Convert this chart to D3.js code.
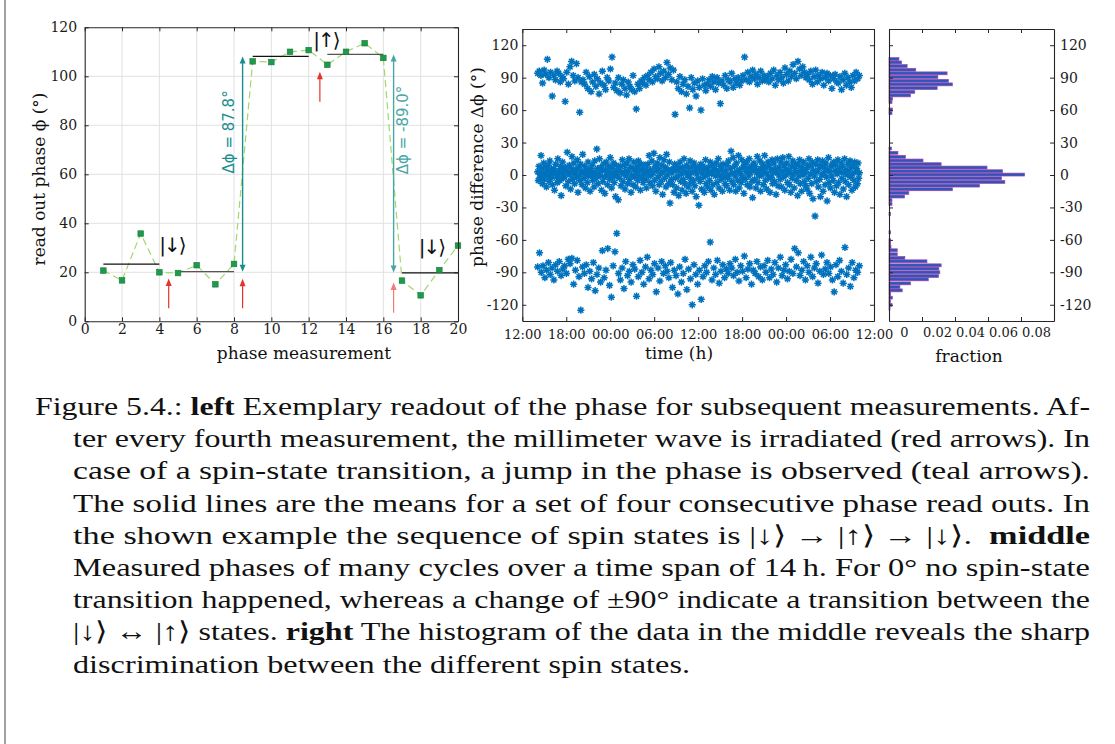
<!DOCTYPE html>
<html>
<head>
<meta charset="utf-8">
<script src="https://cdn.jsdelivr.net/npm/d3@7"></script>
<style>
  body { margin: 0; background: #ffffff; }
  svg { display: block; }
  text { white-space: pre; }
</style>
</head>
<body>
<svg id="fig" width="1115" height="744"></svg>
<script>
// ---------- left: phase read out per measurement ----------
const measurement = [1,2,3,4,5,6,7,8,9,10,11,12,13,14,15,16,17,18,19,20];
const readoutPhase = [20.7,16.7,35.8,20.0,19.7,22.9,15.1,23.4,106.1,105.8,110.0,110.7,104.7,110.0,113.5,107.5,16.6,10.6,20.9,30.9];
// blocks of four consecutive read outs (first and last measurement of each block)
const blockStart = [1,5,9,13,17];
const blockEnd   = [4,8,12,16,20];
// millimetre-wave irradiation (red arrows): position and vertical extent
const irradiationAt   = [4.5, 8.46, 12.6, 16.55];
const irradiationFrom = [5.3, 5.3, 89.6, 3.5];
const irradiationTo   = [17.5, 17.4, 101.9, 15.8];
// detected phase jumps (teal arrows)
const jumpAt    = [8.46, 16.55];
const jumpBlock = [1, 3];          // block the jump starts from
const jumpDelta = [87.8, -89.0];
const jumpLabelAt = [77.3, 78.1];  // label centre, in degrees
// spin-state labels
const stateText = ["|\u2193\u27E9", "|\u2191\u27E9", "|\u2193\u27E9"];
const stateX = [4.67, 12.92, 18.57];
const stateY = [31, 114.8, 30.3];

// ---------- middle: phase difference of many cycles ----------
const cycleStart = new Date(2021, 0, 1, 14, 6);
const cycleEnd   = new Date(2021, 0, 3, 10, 0);
// one value per cycle, in time order, for each of the three outcomes
const phaseNear90 = [
  94,96,92,85,97,93,107,90,95,73,92,88,96,94,
  86,91,89,68,95,84,100,105,92,87,103,90,58,86,
  88,84,95,80,91,77,86,93,82,89,75,85,96,83,79,90,87,98,109,
  81,85,78,90,76,84,88,80,74,86,82,79,92,77,61,84,80,87,
  85,90,83,92,88,95,86,98,91,89,100,94,87,96,90,104,93,99,88,97,56,
  86,80,91,77,84,88,75,82,62,90,79,85,73,87,81,60,89,83,78,
  84,88,82,91,86,79,90,85,66,87,83,92,80,88,86,94,81,89,85,90,83,87,
  92,109,88,95,86,91,97,89,93,84,90,96,87,92,88,
  91,86,94,89,97,83,92,88,95,90,85,99,93,87,96,91,102,94,89,105,98,92,100,95,90,
  93,88,96,84,91,97,86,92,89,95,83,90,94,87,92,80,89,93,86,
  85,91,79,88,94,83,90,86,81,92,87,95,89,92
];
const phaseNear0 = [
  3,-5,8,1,-2,18,6,-8,2,11,-4,0,7,-11,4,-1,9,-6,13,2,-3,5,-9,1,6,-14,3,10,-2,-7,15,0,4,-5,8,-19,2,12,-3,5,
  -1,7,-10,4,21,2,-6,9,0,-13,6,17,-4,3,11,-8,1,5,-2,14,-16,7,0,-5,10,3,-9,19,2,-3,8,-12,5,1,-7,12,-1,4,-15,6,
  0,9,-5,3,-11,13,1,-3,24,6,-8,2,15,-1,7,-14,4,-6,10,-2,-17,5,12,0,-9,3,8,-4,16,1,-12,6,-2,11,-7,2,-20,9,-1,4,
  -23,5,-3,8,-10,2,14,-6,1,9,-13,4,-1,11,-8,3,15,-4,7,-16,0,6,-9,12,-2,5,-11,2,8,-5,13,-1,4,-14,10,-3,6,-7,1,9,
  -4,7,-12,3,10,-1,18,-7,5,0,13,-10,2,20,-5,8,-15,4,11,-2,6,-9,16,1,-6,9,-18,3,14,-3,7,-11,19,0,5,-8,12,-26,4,-4,
  2,-9,6,-16,10,-3,4,-12,8,-1,-19,5,12,-6,1,-14,7,-4,15,-8,3,-17,9,0,-11,6,-2,13,-7,2,-15,8,-5,11,-10,4,-20,1,7,-3,
  -28,6,-6,10,-13,2,8,-2,-16,5,14,-8,0,-11,7,3,-5,12,-14,1,9,-9,4,-18,6,-1,11,-7,3,15,-12,0,8,-4,5,-15,10,-2,2,-8,
  4,-10,9,-3,13,0,-14,6,22,-6,2,16,-9,8,-1,-15,11,3,-5,18,-12,5,1,-7,14,-2,7,-17,10,-4,3,12,-9,6,-1,15,-11,2,8,-6,
  -21,5,11,-4,8,-12,2,17,-7,4,-1,13,-15,6,0,10,-9,3,18,-5,7,-13,1,12,-3,9,-16,5,-2,14,-8,2,11,-6,6,-18,3,15,-10,0,
  7,-4,12,-11,3,16,-2,9,-14,5,0,11,-7,4,17,-9,2,-16,8,-3,13,1,-12,6,10,-5,3,-19,9,-1,14,-8,4,-15,7,0,12,-6,2,-10,
  5,-13,9,-3,15,-17,1,8,-8,12,-22,4,-1,-38,10,-6,3,14,-11,6,-4,-20,9,0,13,-15,2,7,-9,11,-2,-24,5,16,-7,3,-12,8,-1,10,
  -5,12,-16,4,9,-10,1,14,-7,6,-18,3,11,-3,8,-13,2,15,-6,5,-20,0,10,-9,4,13,-2,7,-14,1,9,-5,12,-11,3,6,-8,11,-3,2
];
const phaseNearMinus90 = [
  -85,-72,-90,-84,-95,-88,-81,-92,-86,-97,-83,-89,-80,-93,-87,-84,-91,-78,
  -82,-77,-101,-88,-79,-94,-125,-85,-91,-83,-104,-89,-96,-81,-107,-92,-86,-99,
  -70,-95,-88,-68,-102,-113,-84,-71,-54,-91,-97,-86,-105,-80,-93,-89,-99,-83,
  -87,-112,-94,-79,-90,-101,-85,-76,-96,-88,-92,-82,-108,-86,-98,-80,-91,-84,
  -89,-95,-81,-104,-88,-93,-110,-85,-99,-91,-78,-106,-87,-96,-120,-83,-92,-101,
  -88,-115,-94,-84,-90,-80,-62,-97,-86,-92,-79,-100,-89,-83,-95,-87,-91,-82,
  -86,-93,-78,-90,-98,-84,-89,-75,-95,-87,-82,-101,-88,-91,-80,-94,-85,-97,
  -84,-90,-79,-95,-87,-92,-81,-99,-86,-76,-93,-88,-83,-96,-89,-78,-91,-68,
  -85,-72,-93,-88,-80,-97,-84,-90,-76,-94,-86,-82,-100,-89,-74,-92,-87,-81,
  -91,-85,-97,-108,-83,-94,-79,-89,-100,-67,-92,-86,-103,-81,-95,-88,-90,-84
];

// ---------- right: histogram of the phase differences ----------
const histCenter = [107.2,104.1,100.7,97.3,94.0,90.6,87.1,83.8,80.4,76.9,73.6,70.5,67.4,60.6,57.2,
  24.5,20.5,16.8,13.4,10.0,6.9,3.5,0.4,-3.0,-6.4,-9.8,-13.2,-16.5,-19.9,-23.3,-26.7,
  -36.0,-53.0,-60.4,-63.5,-66.5,-69.6,-73.3,-76.7,-79.8,-83.5,-86.6,-90.0,-93.4,-96.5,
  -100.2,-103.6,-106.7,-110.0,-113.4,-116.8,-120.2,-123.6];
const histFraction = [0.0060,0.0076,0.0110,0.0162,0.0352,0.0296,0.0360,0.0384,0.0292,0.0156,0.0130,0.0022,0.0018,0.0020,0.0018,
  0.0016,0.0054,0.0100,0.0206,0.0316,0.0594,0.0688,0.0822,0.0682,0.0702,0.0548,0.0384,0.0120,0.0094,0.0018,0.0018,
  0.0010,0.0010,0.0010,0.0010,0.0012,0.0050,0.0050,0.0096,0.0230,0.0316,0.0302,0.0308,0.0300,0.0238,
  0.0130,0.0066,0.0080,0.0010,0.0020,0.0008,0.0018,0.0006];

// ---------- tick values ----------
const leftXTicks = [0,2,4,6,8,10,12,14,16,18,20];
const leftYTicks = [0,20,40,60,80,100,120];
const phaseTicks = [-120,-90,-60,-30,0,30,60,90,120];
const fractionTicks = [0,0.02,0.04,0.06,0.08];

// ---------- caption ----------
const captionLines = [
  [["Figure 5.4.: ",0],["left",1],[" Exemplary readout of the phase for subsequent measurements. Af-",0]],
  [["ter every fourth measurement, the millimeter wave is irradiated (red arrows). In",0]],
  [["case of a spin-state transition, a jump in the phase is observed (teal arrows).",0]],
  [["The solid lines are the means for a set of four consecutive phase read outs. In",0]],
  [["the shown example the sequence of spin states is |\u2193\u27E9 \u2192 |\u2191\u27E9 \u2192 |\u2193\u27E9.  ",0],["middle",1]],
  [["Measured phases of many cycles over a time span of 14\u2009h. For 0\u00B0 no spin-state",0]],
  [["transition happened, whereas a change of \u00B190\u00B0 indicate a transition between the",0]],
  [["|\u2193\u27E9 \u2194 |\u2191\u27E9 states. ",0],["right",1],[" The histogram of the data in the middle reveals the sharp",0]],
  [["discrimination between the different spin states.",0]]
];

// ================= drawing =================
const svg = d3.select("#fig");
const axisColor = "#262626";
const serif = "'DejaVu Serif', serif";
const tickFont = 14;

svg.append("line").attr("x1", 5).attr("x2", 5).attr("y1", 0).attr("y2", 744)
  .attr("stroke", "#8a8a8a").attr("stroke-width", 1.6);

function styleAxis(g) {
  g.selectAll("path.domain").attr("stroke", axisColor).attr("stroke-width", 1.1);
  g.selectAll(".tick line").attr("stroke", axisColor).attr("stroke-width", 1);
  g.selectAll("text").attr("fill", "#1a1a1a").style("font-family", serif).style("font-size", tickFont + "px");
}
const plainNum = d => String(d);

// box of four axes with inward ticks
function boxAxes(x, y, xt, yt, o) {
  const [x0, x1] = x.range(), [y0, y1] = y.range();
  const bottom = svg.append("g").attr("transform", `translate(0,${y0})`)
    .call(d3.axisBottom(x).tickValues(xt).tickSizeInner(-4).tickSizeOuter(0)
      .tickPadding(o.xPad).tickFormat(o.xFormat || plainNum));
  const top = svg.append("g").attr("transform", `translate(0,${y1})`)
    .call(d3.axisTop(x).tickValues(xt).tickSizeInner(-4).tickSizeOuter(0).tickFormat(""));
  const left = svg.append("g").attr("transform", `translate(${x0},0)`)
    .call(d3.axisLeft(y).tickValues(yt).tickSizeInner(-4).tickSizeOuter(0)
      .tickPadding(o.yPad).tickFormat(o.yLeftLabels ? plainNum : ""));
  const right = svg.append("g").attr("transform", `translate(${x1},0)`)
    .call(d3.axisRight(y).tickValues(yt).tickSizeInner(-4).tickSizeOuter(0)
      .tickPadding(o.yPad).tickFormat(o.yLeftLabels ? "" : plainNum));
  [bottom, top, left, right].forEach(styleAxis);
  if (o.xFont) bottom.selectAll("text").style("font-size", o.xFont + "px");
  return { bottom, top, left, right };
}

// ---------- left panel ----------
const xL = d3.scaleLinear().domain([0, 20]).range([84.7, 458]);
const yL = d3.scaleLinear().domain([0, 120]).range([321.3, 27.3]);
const gL = svg.append("g");

gL.append("g").selectAll("line.gx").data(leftXTicks.slice(1, -1)).join("line")
  .attr("x1", d => xL(d)).attr("x2", d => xL(d)).attr("y1", yL(0)).attr("y2", yL(120))
  .attr("stroke", "#e2e2e2").attr("stroke-width", 1);
gL.append("g").selectAll("line.gy").data(leftYTicks.slice(1, -1)).join("line")
  .attr("x1", xL(0)).attr("x2", xL(20)).attr("y1", d => yL(d)).attr("y2", d => yL(d))
  .attr("stroke", "#e2e2e2").attr("stroke-width", 1);

const pts = measurement.map((m, i) => ({ m, v: readoutPhase[i] }));
gL.append("path").datum(pts)
  .attr("d", d3.line().x(d => xL(d.m)).y(d => yL(d.v)))
  .attr("fill", "none").attr("stroke", "#a3d86c").attr("stroke-width", 1.2)
  .attr("stroke-dasharray", "7,4");

const blockMean = blockStart.map((s, i) =>
  d3.mean(pts.filter(p => p.m >= s && p.m <= blockEnd[i]), p => p.v));
gL.append("g").selectAll("line").data(blockStart).join("line")
  .attr("x1", d => xL(d)).attr("x2", (d, i) => xL(blockEnd[i]))
  .attr("y1", (d, i) => yL(blockMean[i])).attr("y2", (d, i) => yL(blockMean[i]))
  .attr("stroke", (d, i) => i % 2 ? "#555555" : "#111111").attr("stroke-width", 1.3);

gL.append("g").selectAll("rect").data(pts).join("rect")
  .attr("x", d => xL(d.m) - 2.8).attr("y", d => yL(d.v) - 2.8)
  .attr("width", 5.6).attr("height", 5.6)
  .attr("fill", "#1e9a4c").attr("stroke", "#157a3a").attr("stroke-width", 0.6);

function head(g, x, yTip, dir, color, w, l) {
  g.append("path")
    .attr("d", `M${x},${yTip}L${x - w / 2},${yTip - dir * l}L${x + w / 2},${yTip - dir * l}Z`)
    .attr("fill", color);
}

// red arrows: irradiation
irradiationAt.forEach((a, i) => {
  const col = i === 3 ? "#ef7d78" : "#e3342c";
  const x = xL(a), y0 = yL(irradiationFrom[i]), y1 = yL(irradiationTo[i]);
  gL.append("line").attr("x1", x).attr("x2", x).attr("y1", y0).attr("y2", y1 + 6)
    .attr("stroke", col).attr("stroke-width", 1.2);
  head(gL, x, y1, -1, col, 6, 7.5);
});

// teal arrows: phase jumps
const jumpLabelShift = [-8.7, 14.3];
jumpAt.forEach((a, i) => {
  const col = i === 0 ? "#1b8f8f" : "#4aa6a6";
  const from = blockMean[jumpBlock[i]], to = from + jumpDelta[i];
  const yTop = yL(Math.max(from, to)), yBot = yL(Math.min(from, to));
  const x = xL(a);
  gL.append("line").attr("x1", x).attr("x2", x).attr("y1", yTop + 6).attr("y2", yBot - 6)
    .attr("stroke", col).attr("stroke-width", 1.4);
  head(gL, x, yTop, -1, col, 6, 7);
  head(gL, x, yBot, 1, col, 6, 7);
  const lx = x + jumpLabelShift[i], ly = yL(jumpLabelAt[i]);
  gL.append("text").attr("transform", `translate(${lx},${ly}) rotate(-90)`)
    .attr("text-anchor", "middle").attr("fill", col)
    .style("font-family", "'DejaVu Sans', sans-serif").style("font-size", "15px")
    .text(`\u0394\u03D5 = ${jumpDelta[i].toFixed(1)}\u00B0`);
});

// spin-state labels
gL.append("g").selectAll("text").data(stateText).join("text")
  .attr("x", (d, i) => xL(stateX[i])).attr("y", (d, i) => yL(stateY[i]))
  .attr("text-anchor", "middle").attr("dominant-baseline", "central")
  .style("font-family", "'DejaVu Sans', sans-serif").style("font-size", "20px")
  .style("letter-spacing", "-2px").attr("fill", "#111").text(d => d);

boxAxes(xL, yL, leftXTicks, leftYTicks, { xPad: 3, yPad: 7.5, yLeftLabels: true });

svg.append("text").attr("x", 304).attr("y", 359).attr("text-anchor", "middle")
  .style("font-family", serif).style("font-size", "17px").attr("fill", "#111")
  .text("phase measurement");
svg.append("text").attr("transform", "translate(45,179) rotate(-90)").attr("text-anchor", "middle")
  .style("font-family", serif).style("font-size", "17px").attr("fill", "#111")
  .text("read out phase \u03D5 (\u00B0)");

// ---------- middle panel ----------
const xM = d3.scaleTime().domain([new Date(2021, 0, 1, 12), new Date(2021, 0, 3, 12)]).range([522.3, 874]);
const yM = d3.scaleLinear().domain([-135, 135]).range([321, 29]);
const timeTicks = xM.ticks(d3.timeHour.every(6));

const asterisk = {
  draw(ctx, size) {
    const r = Math.sqrt(size) / 2, d = r * 0.7071;
    ctx.moveTo(-r, 0); ctx.lineTo(r, 0);
    ctx.moveTo(0, -r); ctx.lineTo(0, r);
    ctx.moveTo(-d, -d); ctx.lineTo(d, d);
    ctx.moveTo(-d, d); ctx.lineTo(d, -d);
  }
};
const star = d3.symbol().type(asterisk).size(52)();
const cycleTime = d3.scaleLinear().range([+cycleStart, +cycleEnd]);
const scatter = [phaseNear90, phaseNear0, phaseNearMinus90].flatMap(arr => {
  cycleTime.domain([0, arr.length - 1]);
  return arr.map((v, i) => ({ t: new Date(cycleTime(i)), v }));
});
svg.append("g").selectAll("path").data(scatter).join("path")
  .attr("transform", d => `translate(${xM(d.t)},${yM(d.v)})`)
  .attr("d", star).attr("fill", "none").attr("stroke", "#0072bd").attr("stroke-width", 1.5);

boxAxes(xM, yM, timeTicks, phaseTicks,
  { xPad: 9, yPad: 4, yLeftLabels: true, xFormat: d3.timeFormat("%H:%M"), xFont: 13 });

svg.append("text").attr("x", 679).attr("y", 359).attr("text-anchor", "middle")
  .style("font-family", serif).style("font-size", "17px").attr("fill", "#111").text("time (h)");
svg.append("text").attr("transform", "translate(483,167) rotate(-90)").attr("text-anchor", "middle")
  .style("font-family", serif).style("font-size", "17px").attr("fill", "#111")
  .text("phase difference \u0394\u03D5 (\u00B0)");

// ---------- right panel ----------
const xH = d3.scaleLinear().domain([0, 0.1]).range([889, 1054]);
const yH = yM.copy();
const bars = histCenter.map((c, i) => ({ c, f: histFraction[i] }));
svg.append("g").selectAll("rect").data(bars).join("rect")
  .attr("x", xH(0)).attr("y", d => yH(d.c) - 1.45)
  .attr("width", d => xH(d.f) - xH(0)).attr("height", 2.9)
  .attr("fill", "#2f55b8").attr("stroke", "#9c46b0").attr("stroke-width", 0.7);

const hAx = boxAxes(xH, yH, fractionTicks, phaseTicks,
  { xPad: 7, yPad: 6, yLeftLabels: false, xFormat: d => d === 0 ? "0" : d.toFixed(2), xFont: 13 });
hAx.bottom.selectAll("text").attr("x", 15);

svg.append("text").attr("x", 969).attr("y", 362).attr("text-anchor", "middle")
  .style("font-family", serif).style("font-size", "17px").attr("fill", "#111").text("fraction");

// ---------- caption ----------
const capX = [35, 73, 73, 73, 73, 73, 73, 73, 73];
const capRight = 1090;
const capBase = 415, capStep = 32.2;
captionLines.forEach((parts, i) => {
  const t = svg.append("text").attr("x", capX[i]).attr("y", capBase + i * capStep)
    .style("font-family", "'Liberation Serif', 'Times New Roman', serif").style("font-size", "26px")
    .attr("fill", "#111");
  parts.forEach(([s, b]) => t.append("tspan").style("font-weight", b ? "bold" : "normal").text(s));
  const w = i === captionLines.length - 1 ? 617 : capRight - capX[i];
  t.attr("textLength", w).attr("lengthAdjust", "spacingAndGlyphs");
});
</script>
</body>
</html>
